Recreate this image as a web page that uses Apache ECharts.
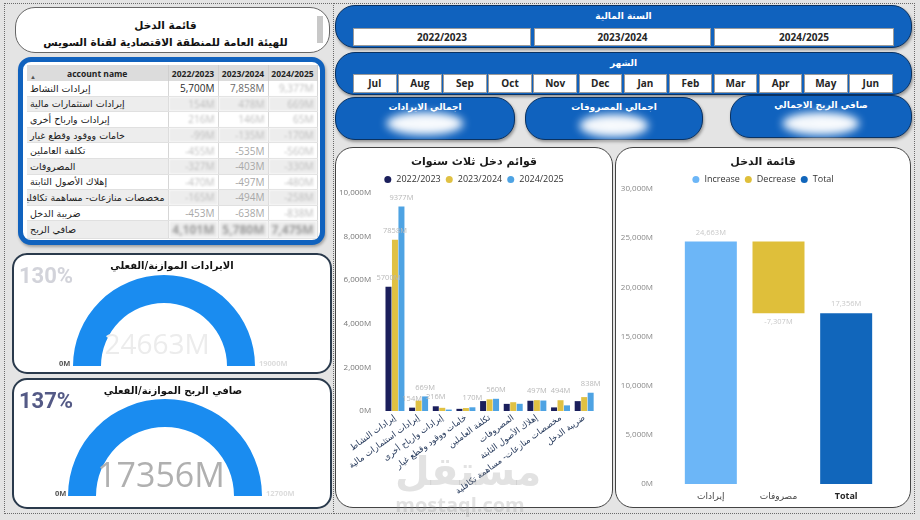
<!DOCTYPE html>
<html>
<head>
<meta charset="utf-8">
<script src="https://cdn.jsdelivr.net/npm/echarts@6/dist/echarts.min.js"></script>
<style>
body{margin:0;background:#e4e4e4;}
#page{position:relative;width:920px;height:520px;overflow:hidden;font-family:"Open Sans","DejaVu Sans",sans-serif;}
.frame{position:absolute;border:1.5px dotted #6a6a6a;box-sizing:border-box;}
.blue{position:absolute;box-sizing:border-box;background:#1062be;border:1.5px solid #0a3262;border-radius:20px;box-shadow:1px 2px 3px rgba(0,0,0,.35);}
.slTitle{position:absolute;left:0;right:0;text-align:center;color:#fff;font:bold 9px "DejaVu Sans",sans-serif;}
.btn{position:absolute;background:#fff;border:1px solid #9a9a9a;box-sizing:border-box;text-align:center;font:bold 10px "Open Sans",sans-serif;color:#252525;}
.blob{position:absolute;left:50%;transform:translateX(-50%);background:rgba(255,255,255,.95);border-radius:50%;filter:blur(4px);color:#fff;font:bold 14px "Open Sans";padding:2px 10px;}
.panel{position:absolute;box-sizing:border-box;background:#fff;border:1.5px solid #444;border-radius:18px;overflow:hidden;}
.chart{position:absolute;left:0;top:0;right:0;bottom:0;}
#tbl{position:absolute;left:18px;top:57px;width:307px;height:188px;border:5px solid #1062be;border-radius:13px;background:#fff;box-sizing:border-box;overflow:hidden;box-shadow:1px 2px 3px rgba(0,0,0,.3);}
#tbl table{position:absolute;left:4px;top:3px;border-collapse:collapse;table-layout:fixed;width:290px;}
#tbl th{height:16px;background:#dcdcdc;font:bold 8.5px "Open Sans",sans-serif;color:#222;padding:0;border-right:1px solid #cfcfcf;}
#tbl td{height:14.6px;padding:0 3px;border-right:1px solid #d6d6d6;border-bottom:1px solid #e0e0e0;font:10px "Open Sans",sans-serif;color:#a8a8a8;text-align:right;white-space:nowrap;overflow:hidden;}
#tbl tr.alt td{background:#ededed;}
#tbl td.name{text-align:left;direction:rtl;font:9.5px "DejaVu Sans",sans-serif;color:#1a1a1a;}
#tbl td.bl{filter:blur(1.3px);color:#bdbdbd;}
#tbl tr.net td.v{font:bold 12px "Open Sans";color:#9a9a9a;filter:blur(1.6px);}
.wm{position:absolute;font-weight:bold;text-align:center;pointer-events:none;}
</style>
</head>
<body>
<div id="page">
  <div class="frame" style="left:4px;top:3px;width:330px;height:511px;"></div>
  <div class="frame" style="left:333px;top:3px;width:582px;height:511px;"></div>

  <div class="panel" style="left:15px;top:7px;width:315px;height:46px;border-radius:20px;border-color:#666;">
    <div style="position:absolute;left:0;right:14px;top:9px;text-align:center;font:bold 10.5px 'DejaVu Sans';color:#111;line-height:17px;">
      قائمة الدخل<br>للهيئة العامة للمنطقة الاقتصادية لقناة السويس
    </div>
    <div style="position:absolute;left:301px;top:8px;width:6px;height:27px;background:#c8c8c8;"></div>
  </div>

  <div class="blue" id="yearSl" style="left:335px;top:5px;width:577px;height:43px;">
    <div class="slTitle" style="top:5px;">السنة المالية</div>
  </div>
  <div class="blue" id="monthSl" style="left:335px;top:52px;width:577px;height:43px;">
    <div class="slTitle" style="top:5px;">الشهر</div>
  </div>

  <div class="blue" style="left:335px;top:97px;width:180px;height:43px;">
    <div class="slTitle" style="top:4px;">اجمالي الايرادات</div>
    <div class="blob" id="kpiRev" style="top:14px;"></div>
  </div>
  <div class="blue" style="left:525px;top:97px;width:178px;height:43px;">
    <div class="slTitle" style="top:4px;">اجمالي المصروفات</div>
    <div class="blob" id="kpiExp" style="top:16px;"></div>
  </div>
  <div class="blue" style="left:730px;top:95px;width:182px;height:43px;">
    <div class="slTitle" style="top:4px;">صافي الربح الاجمالي</div>
    <div class="blob" id="kpiNet" style="top:16px;"></div>
  </div>

  <div id="tbl"><table id="tab"></table></div>

  <div class="panel" style="left:12px;top:253px;width:320px;height:121px;border:2px solid #2a3a4c;border-radius:15px;">
    <div class="chart" id="g1"></div>
  </div>
  <div class="panel" style="left:12px;top:378px;width:320px;height:131px;border:2px solid #2a3a4c;border-radius:15px;">
    <div class="chart" id="g2"></div>
  </div>

  <div class="panel" style="left:335px;top:147px;width:278px;height:361px;">
    <div class="chart" id="bars"></div>
  </div>
  <div class="panel" style="left:615px;top:147px;width:296px;height:361px;">
    <div class="chart" id="wf"></div>
  </div>

  <div class="wm" style="left:395px;top:448px;width:130px;font:bold 40px 'DejaVu Sans';color:rgba(150,150,150,.28);">مستقل</div>
  <div class="wm" style="left:395px;top:491px;width:130px;font:bold 20px 'Open Sans';color:rgba(150,150,150,.28);">mostaql.com</div>
</div>

<script>
var years = ['2022/2023', '2023/2024', '2024/2025'];
var months = ['Jul', 'Aug', 'Sep', 'Oct', 'Nov', 'Dec', 'Jan', 'Feb', 'Mar', 'Apr', 'May', 'Jun'];
var accounts = ['إيرادات النشاط', 'إيرادات استثمارات مالية', 'إيرادات وارباح أخرى', 'خامات ووقود وقطع غيار', 'تكلفة العاملين', 'المصروفات', 'إهلاك الأصول الثابتة', 'مخصصات منازعات- مساهمة تكافلية', 'ضريبة الدخل'];
var netLabel = 'صافي الربح';
var fy2223 = [5700, 154, 216, -99, -455, -327, -470, -165, -453];
var fy2324 = [7858, 478, 146, -135, -535, -403, -497, -494, -638];
var fy2425 = [9377, 669, 65, -170, -560, -330, -480, -258, -838];
var revTarget = 19000;
var netTarget = 12700;
var wfCats = ['إيرادات', 'مصروفات', 'Total'];
var barTicks = [0, 10000, 2000];
var wfTicks = [0, 30000, 5000];

var arFont = '"DejaVu Sans", sans-serif';
var laFont = '"Open Sans", "DejaVu Sans", sans-serif';

function fmt(v) { return v.toLocaleString('en-US') + 'M'; }
function sum(a) { return a.reduce(function (s, x) { return s + x; }, 0); }

var cols = [fy2223, fy2324, fy2425];
var revTotal = 0, expTotal = 0;
cols.forEach(function (c) {
    c.forEach(function (v) { if (v > 0) revTotal += v; else expTotal -= v; });
});
var netTotal = revTotal - expTotal;

// slicers
var ys = document.getElementById('yearSl');
var yx = [17, 198, 378], yw = [178, 177, 180];
years.forEach(function (y, i) {
    var b = document.createElement('div');
    b.className = 'btn';
    b.style.cssText = 'left:' + yx[i] + 'px;top:22px;width:' + yw[i] + 'px;height:18px;line-height:16px;';
    b.textContent = y;
    ys.appendChild(b);
});
var ms = document.getElementById('monthSl');
months.forEach(function (m, i) {
    var b = document.createElement('div');
    b.className = 'btn';
    b.style.cssText = 'left:' + (17 + i * 45.1) + 'px;top:21px;width:43.5px;height:19px;line-height:17px;';
    b.textContent = m;
    ms.appendChild(b);
});
document.getElementById('kpiRev').textContent = fmt(revTotal);
document.getElementById('kpiExp').textContent = fmt(expTotal);
document.getElementById('kpiNet').textContent = fmt(netTotal);

// table
var html = '<colgroup><col style="width:141px"><col style="width:50px"><col style="width:50px"><col style="width:49px"></colgroup>';
html += '<tr><th style="position:relative">account name<span style="position:absolute;left:3px;bottom:0;font-size:6px;color:#555">▲</span></th>';
years.forEach(function (y) { html += '<th>' + y + '</th>'; });
html += '</tr>';
accounts.forEach(function (a, r) {
    html += '<tr' + (r % 2 ? ' class="alt"' : '') + '><td class="name">' + a + '</td>';
    cols.forEach(function (c, k) {
        var cls = 'v';
        var style = '';
        if (r === 0 && k === 0) style = 'color:#2a2a2a';
        else if (r === 0 && k === 1) style = 'color:#6a6a6a';
        else if (k === 2 || (k === 0 && r !== 8) || (k === 1 && r < 4)) cls += ' bl';
        html += '<td class="' + cls + '" style="' + style + '">' + fmt(c[r]) + '</td>';
    });
    html += '</tr>';
});
html += '<tr class="alt net"><td class="name">' + netLabel + '</td>';
cols.forEach(function (c) { html += '<td class="v">' + fmt(sum(c)) + '</td>'; });
html += '</tr>';
document.getElementById('tab').innerHTML = html;

// gauges
function gauge(id, title, actual, target, cx, cy, r, pctColor, valSize, valColor, valOff, zeroX, zeroY) {
    var ch = echarts.init(document.getElementById(id));
    var ratio = Math.min(actual / target, 1);
    ch.setOption({
        animation: false,
        graphic: [
            { type: 'text', x: cx + 8, y: 11, style: { text: title, font: 'bold 10px ' + arFont, fill: '#111', align: 'center', textAlign: 'center', verticalAlign: 'middle', textVerticalAlign: 'middle' } },
            { type: 'text', x: 5, y: 22, style: { text: Math.round(actual / target * 100) + '%', font: 'bold 22px Roboto, sans-serif', fill: pctColor, align: 'left', textAlign: 'left', verticalAlign: 'middle', textVerticalAlign: 'middle' } },
            { type: 'text', x: zeroX, y: zeroY, style: { text: '0M', font: 'bold 7.5px ' + laFont, fill: '#555', align: 'left', textAlign: 'left', verticalAlign: 'middle', textVerticalAlign: 'middle' } },
            { type: 'text', x: cx + r + 4, y: zeroY, style: { text: target + 'M', font: 'bold 7.5px ' + laFont, fill: '#dcdcdc', align: 'left', textAlign: 'left', verticalAlign: 'middle', textVerticalAlign: 'middle' } }
        ],
        series: [{
            type: 'gauge',
            startAngle: 180, endAngle: 0,
            min: 0, max: target,
            center: [cx, cy], radius: r,
            axisLine: { lineStyle: { width: 28, color: [[ratio, '#1a8cf0'], [1, '#e6e6e6']] } },
            pointer: { show: false },
            axisTick: { show: false },
            splitLine: { show: false },
            axisLabel: { show: false },
            title: { show: false },
            detail: {
                offsetCenter: valOff,
                formatter: function () { return actual + 'M'; },
                fontSize: valSize, fontWeight: 'normal', fontFamily: laFont, color: valColor
            },
            data: [{ value: Math.min(actual, target) }]
        }]
    });
}
gauge('g1', 'الايرادات الموازنة/الفعلي', revTotal, revTarget, 150, 111, 91, '#d2d3da', 28, '#ececec', [-7, -20], 45, 109);
gauge('g2', 'صافي الربح الموازنة/الفعلي', netTotal, netTarget, 151, 116, 97, '#545a86', 34, '#b0b0b0', [-4, -19], 41, 114);

// bar chart
var bars = echarts.init(document.getElementById('bars'));
var barColors = ['#1b1f5c', '#e0c143', '#4ea3e3'];
bars.setOption({
    animation: false,
    title: { text: 'قوائم دخل ثلاث سنوات', left: 'center', top: 4, textStyle: { fontSize: 11, fontWeight: 'bold', color: '#1a1a1a', fontFamily: arFont } },
    legend: { top: 22, left: 'center', icon: 'circle', itemWidth: 7, itemHeight: 7, itemGap: 5, textStyle: { fontSize: 9, color: '#333', fontFamily: laFont }, data: years },
    grid: { left: 47, right: 16, top: 45, bottom: 96 },
    xAxis: {
        type: 'category', data: accounts,
        axisLine: { show: false }, axisTick: { show: false },
        axisLabel: { interval: 0, rotate: 36, fontSize: 8.5, color: '#1f3356', fontFamily: arFont, margin: 6 }
    },
    yAxis: {
        type: 'value', min: barTicks[0], max: barTicks[1], interval: barTicks[2],
        splitLine: { show: false },
        axisLabel: { formatter: function (v) { return fmt(v); }, fontSize: 8, color: '#777', fontFamily: laFont, margin: 12 }
    },
    series: cols.map(function (c, i) {
        return {
            name: years[i], type: 'bar', barWidth: 6, barGap: '8%',
            itemStyle: { color: barColors[i] },
            data: c.map(function (v) { return Math.abs(v); }),
            label: { show: true, position: 'top', fontSize: 7.5, color: '#b8b8b8', fontFamily: laFont, formatter: function (p) { return p.value + 'M'; } },
            labelLayout: { hideOverlap: true }
        };
    })
});

// waterfall
var wf = echarts.init(document.getElementById('wf'));
var lbl = { show: true, fontSize: 7.5, color: '#c8c8c8', fontFamily: laFont };
wf.setOption({
    animation: false,
    title: { text: 'قائمة الدخل', left: 'center', top: 4, textStyle: { fontSize: 11, fontWeight: 'bold', color: '#1a1a1a', fontFamily: arFont } },
    legend: { top: 22, left: 'center', icon: 'circle', itemWidth: 7, itemHeight: 7, itemGap: 5, textStyle: { fontSize: 9, color: '#333', fontFamily: laFont }, data: ['Increase', 'Decrease', 'Total'] },
    grid: { left: 61, right: 30, top: 41, bottom: 23 },
    xAxis: {
        type: 'category', data: wfCats,
        axisLine: { show: false }, axisTick: { show: false },
        axisLabel: {
            fontSize: 9, color: '#444', fontFamily: arFont, margin: 8,
            formatter: function (v) { return v === 'Total' ? '{b|' + v + '}' : v; },
            rich: { b: { fontWeight: 'bold', color: '#252525', fontSize: 9, fontFamily: laFont } }
        }
    },
    yAxis: {
        type: 'value', min: wfTicks[0], max: wfTicks[1], interval: wfTicks[2],
        splitLine: { show: false },
        axisLabel: { formatter: function (v) { return fmt(v); }, fontSize: 8, color: '#888', fontFamily: laFont, margin: 24 }
    },
    series: [
        { type: 'bar', stack: 'w', silent: true, barWidth: 52, itemStyle: { color: 'transparent' }, data: [0, netTotal, 0] },
        { name: 'Increase', type: 'bar', stack: 'w', barWidth: 52, itemStyle: { color: '#6cb6f7' }, data: [revTotal, '-', '-'],
          label: Object.assign({ position: 'top', formatter: function (p) { return fmt(p.value); } }, lbl) },
        { name: 'Decrease', type: 'bar', stack: 'w', barWidth: 52, itemStyle: { color: '#dfbf3a' }, data: ['-', expTotal, '-'],
          label: Object.assign({ position: 'bottom', formatter: function (p) { return '-' + fmt(p.value); } }, lbl) },
        { name: 'Total', type: 'bar', stack: 'w', barWidth: 52, itemStyle: { color: '#1166bb' }, data: ['-', '-', netTotal],
          label: Object.assign({ position: 'top', formatter: function (p) { return fmt(p.value); } }, lbl) }
    ]
});
</script>
</body>
</html>
